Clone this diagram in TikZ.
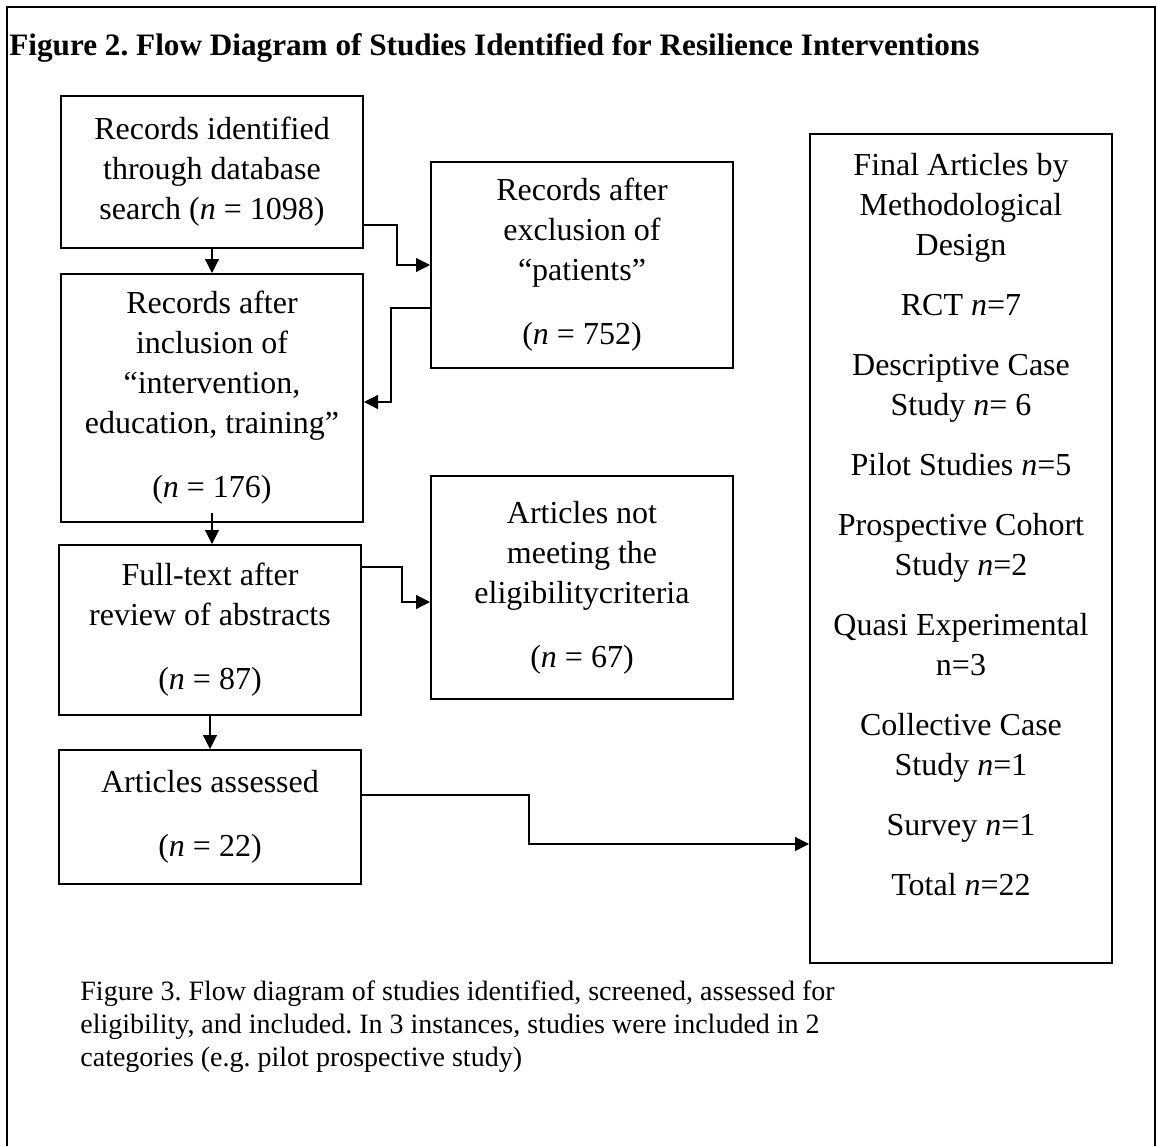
\documentclass[tikz,border=0pt]{standalone}
\usepackage{fontspec}
\setmainfont{Liberation Serif}
\frenchspacing
\usetikzlibrary{arrows.meta,positioning}

\tikzset{
  stagebox/.style={draw,line width=1pt,align=center,inner sep=0pt,
    minimum width=151pt,font=\fontsize{16}{20}\selectfont},
  arr/.style={line width=0.6pt,-{Triangle[length=7pt,width=7pt]}},
}

\begin{document}
\begin{tikzpicture}[x=0.5pt,y=-0.5pt]
            \useasboundingbox (0,0) rectangle (1157,1146);
            \draw[line width=1.2pt] (7,1146) -- (7,7) -- (1155,7) -- (1155,1146);

            \node[anchor=base west,inner sep=0pt,font=\fontsize{15.6}{20}\selectfont\bfseries] (title) at (9,55)
                {Figure 2. Flow Diagram of Studies Identified for Resilience Interventions};

            \node[stagebox,minimum height=76pt] (A) at (212,172)
                {Records identified\\ through database\\ search (\textit{n} = 1098)};
            \node[stagebox,minimum height=103pt] (B) at (582,265)
                {Records after\\ exclusion of\\ “patients”\\[12pt] (\textit{n} = 752)};
            \node[stagebox,minimum height=124pt] (C) at (212,398)
                {Records after\\ inclusion of\\ “intervention,\\ education, training”\\[12pt] (\textit{n} = 176)};
            \node[stagebox,minimum height=85pt] (D) at (210,630)
                {Full-text after\\ review of abstracts\\[12pt] (\textit{n} = 87)};
            \node[stagebox,minimum height=111.5pt] (E) at (582,587.5)
                {Articles not\\ meeting the\\ eligibilitycriteria\\[12pt] (\textit{n} = 67)};
            \node[stagebox,minimum height=67pt] (F) at (210,817)
                {Articles assessed\\[12pt] (\textit{n} = 22)};
            \node[stagebox,minimum height=414.5pt] (G) at (961,548.5)
                {Final Articles by\\ Methodological\\ Design\\[10pt]
                 RCT \textit{n}=7\\[10pt]
                 Descriptive Case\\ Study \textit{n}= 6\\[10pt]
                 Pilot Studies \textit{n}=5\\[10pt]
                 Prospective Cohort\\ Study \textit{n}=2\\[10pt]
                 Quasi Experimental\\ n=3\\[10pt]
                 Collective Case\\ Study \textit{n}=1\\[10pt]
                 Survey \textit{n}=1\\[10pt]
                 Total \textit{n}=22\\[4pt]\mbox{}};

            \draw[arr] (A.south) -- (A.south |- C.north);
            \draw[arr] ([yshift=-26.5pt]A.east) -- ++(33,0) |- (B.west);
            \draw[arr] ([yshift=-21.5pt]B.west) -- ++(-39,0) |- ([yshift=-2pt]C.east);
            \draw[arr] ([yshift=5pt]C.south) -- (C.south |- D.north);
            \draw[arr] ([yshift=31.5pt]D.east) -- ++(40,0) |- ([yshift=-7.25pt]E.west);
            \draw[arr] (D.south) -- (F.north);
            \draw[arr] ([yshift=11pt]F.east) -- ++(167,0) |- ([yshift=-147.75pt]G.west);

            \node[anchor=north west,align=left,inner sep=0pt,font=\fontsize{14}{16.5}\selectfont] (caption) at (80,980)
                {Figure 3. Flow diagram of studies identified, screened, assessed for\\
                 eligibility, and included. In 3 instances, studies were included in 2\\
                 categories (e.g. pilot prospective study)};

        \end{tikzpicture}
\end{document}
